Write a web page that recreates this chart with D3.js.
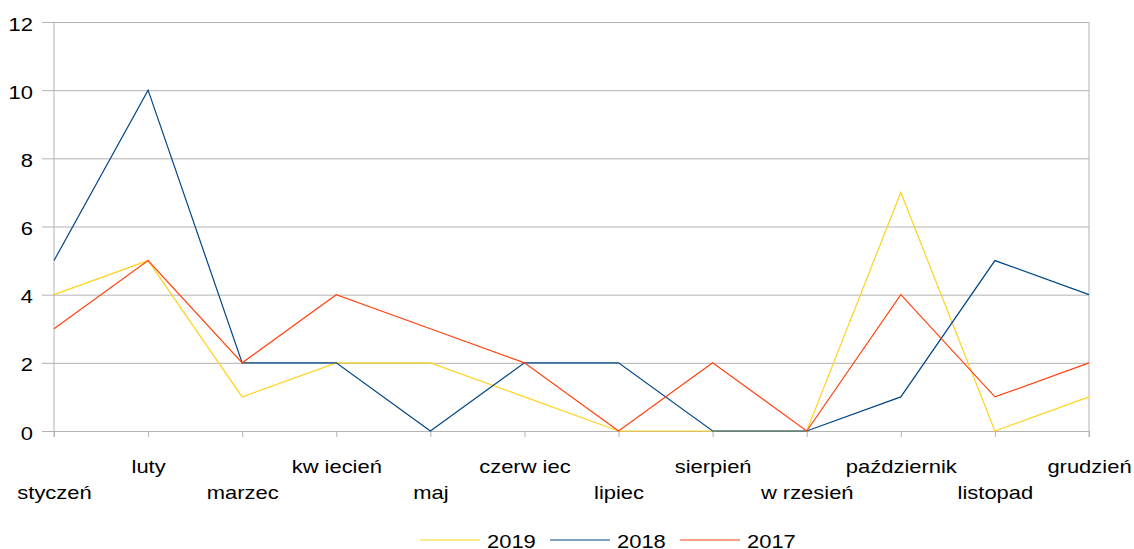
<!DOCTYPE html>
<html>
<head>
<meta charset="utf-8">
<script src="https://cdn.jsdelivr.net/npm/d3@7"></script>
<style>
  body { margin: 0; background: #fff; }
  svg text { font-family: "Liberation Sans", Arial, sans-serif; fill: #000; }
</style>
</head>
<body>
<svg id="chart"></svg>
<script>
// month labels as shown in the picture
let months = ['styczeń', 'luty', 'marzec', 'kw iecień', 'maj', 'czerw iec',
  'lipiec', 'sierpień', 'w rzesień', 'październik', 'listopad', 'grudzień'];
let yTicks = [0, 2, 4, 6, 8, 10, 12];

let values2019 = [4, 5, 1, 2, 2, 1, 0, 0, 0, 7, 0, 1];
let values2018 = [5, 10, 2, 2, 0, 2, 2, 0, 0, 1, 5, 4];
let values2017 = [3, 5, 2, 4, 3, 2, 0, 2, 0, 4, 1, 2];

let seriesNames = ['2019', '2018', '2017'];
let seriesColors = ['#ffd320', '#004586', '#ff420e'];

function makeChart() {
  let w = 1134;
  let h = 549;
  let left = 54, right = 1089, top = 22, bottom = 431;
  // the reference text is drawn wide, so stretch it a bit horizontally
  let stretch = 1.22;
  let fontSize = '18px';

  let svg = d3.select('#chart')
    .attr('width', w)
    .attr('height', h);

  let xScale = d3.scalePoint()
    .domain(months)
    .range([left, right]);

  let yScale = d3.scaleLinear()
    .domain([0, 12])
    .range([bottom, top]);

  // horizontal gridlines + y labels
  let yAxis = svg.append('g')
    .attr('transform', `translate(${left},0)`)
    .call(d3.axisLeft(yScale).tickValues(yTicks).tickSizeInner(-(right - left)).tickSizeOuter(0).tickPadding(0));
  yAxis.select('.domain').remove();
  yAxis.selectAll('.tick line')
    .attr('x1', -12)
    .attr('stroke', '#b3b3b3');
  yAxis.selectAll('.tick text')
    .attr('x', -21 / stretch)
    .attr('dy', '0.45em')
    .attr('transform', `scale(${stretch},1)`)
    .attr('font-size', fontSize)
    .attr('font-family', '"Liberation Sans", Arial, sans-serif');

  // vertical frame lines at both ends
  svg.append('line')
    .attr('x1', left).attr('x2', left)
    .attr('y1', top).attr('y2', bottom + 6)
    .attr('stroke', '#b3b3b3');
  svg.append('line')
    .attr('x1', right).attr('x2', right)
    .attr('y1', top).attr('y2', bottom + 6)
    .attr('stroke', '#b3b3b3');

  let xAxis = svg.append('g')
    .attr('transform', `translate(0,${bottom})`)
    .call(d3.axisBottom(xScale).tickSize(6).tickPadding(0));
  xAxis.select('.domain').remove();
  xAxis.selectAll('.tick line').attr('stroke', '#b3b3b3');
  xAxis.selectAll('.tick text')
    .attr('font-size', fontSize)
    .attr('font-family', '"Liberation Sans", Arial, sans-serif')
    .attr('dy', null)
    .attr('transform', `scale(${stretch},1)`)
    .attr('y', (d, i) => i % 2 === 0 ? 68 : 42);

  // lines
  let allSeries = [values2019, values2018, values2017];
  let line = d3.line()
    .x((d, i) => xScale(months[i]))
    .y((d) => yScale(d));

  svg.selectAll('path.series')
    .data(allSeries)
    .enter()
    .append('path')
    .attr('class', 'series')
    .attr('d', (d) => line(d))
    .attr('fill', 'none')
    .attr('stroke', (d, i) => seriesColors[i])
    .attr('stroke-width', 1.2);

  // legend
  let legend = svg.append('g');
  let legendX = d3.scaleLinear().domain([0, 1]).range([420, 550]);
  seriesNames.forEach((name, i) => {
    let x0 = legendX(i);
    legend.append('line')
      .attr('x1', x0).attr('x2', x0 + 60)
      .attr('y1', 540).attr('y2', 540)
      .attr('stroke', seriesColors[i])
      .attr('stroke-width', 1.2);
    legend.append('text')
      .attr('transform', `translate(${x0 + 67},548) scale(${stretch},1)`)
      .attr('font-size', fontSize)
      .text(name);
  });
}

window.onload = function () {
  makeChart();
};
</script>
</body>
</html>
